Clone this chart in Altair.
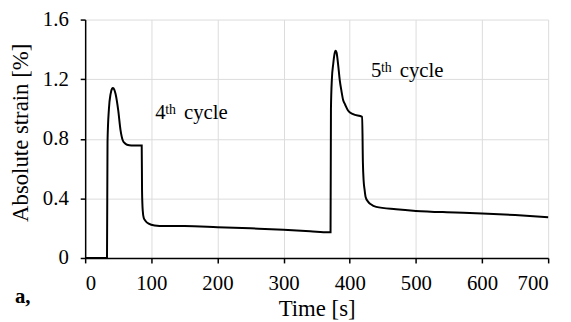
import altair as alt
import pandas as pd

# Time [s] and absolute strain [%]
time_s = [0, 33.0, 33.8, 35.9, 38.4, 40.5, 42.0, 44.0, 46.0, 50.0, 53.4, 56.8,
          60.0, 63.3, 70.0, 85.5, 86.0, 87.0, 88.5, 91.0, 96.0, 105, 120, 150,
          200, 250, 300, 340, 368, 371.0, 371.6, 373.0, 375.0, 377.0, 378.5,
          380.0, 382.4, 385.0, 387.5, 390.0, 393.0, 397.4, 405.0, 418.8, 419.9,
          421.0, 422.4, 424.0, 427.4, 432.0, 440, 470, 500, 560, 600, 650, 700]
strain = [0, 0, 0.78, 1.00, 1.10, 1.135, 1.14, 1.13, 1.10, 0.99, 0.86, 0.79,
          0.77, 0.76, 0.755, 0.755, 0.45, 0.32, 0.27, 0.25, 0.23, 0.218, 0.214,
          0.214, 0.207, 0.199, 0.19, 0.18, 0.172, 0.172, 1.0, 1.2, 1.30, 1.37,
          1.39, 1.38, 1.30, 1.19, 1.12, 1.06, 1.03, 0.99, 0.965, 0.947, 0.64,
          0.52, 0.46, 0.41, 0.38, 0.36, 0.343, 0.327, 0.316, 0.305, 0.298,
          0.288, 0.274]

cycle_num = ["4", "5"]
cycle_t = [106.0, 432.2]
cycle_y = [0.936, 1.212]

x_ticks = [0, 100, 200, 300, 400, 500, 600, 700]
y_ticks = [0, 0.4, 0.8, 1.2, 1.6]

FONT = "Liberation Serif"

df = pd.DataFrame({"t": time_s, "s": strain})
ann = pd.DataFrame({"t": cycle_t, "y": cycle_y, "num": cycle_num})

xs = alt.Scale(domain=[0, 700], nice=False)
ys = alt.Scale(domain=[0, 1.6], nice=False)

axis_common = dict(labelFont=FONT, titleFont=FONT, labelFontSize=21, titleFontSize=23,
                   titleFontWeight="normal", labelColor="black", titleColor="black",
                   domainColor="black", domainWidth=1.5, tickColor="black", tickSize=5,
                   tickWidth=1.5, gridColor="#dcdcdc", gridWidth=1)

line = alt.Chart(df).mark_line(color="black", strokeWidth=2, interpolate="monotone").encode(
    x=alt.X("t:Q", scale=xs, axis=alt.Axis(
        title="Time [s]", values=x_ticks, format="d", titleBaseline="alphabetic",
        titleY=58, labelPadding=10, **axis_common)),
    y=alt.Y("s:Q", scale=ys, axis=alt.Axis(
        title="Absolute strain [%]", values=y_ticks, format="~g",
        titleX=-53, titleY=114, labelPadding=12, **axis_common)),
)

num = alt.Chart(ann).mark_text(font=FONT, fontSize=21, align="left",
                               baseline="alphabetic", color="black").encode(
    x=alt.X("t:Q", scale=xs), y=alt.Y("y:Q", scale=ys), text="num:N")
sup = alt.Chart(ann).mark_text(font=FONT, fontSize=14, align="left",
                               baseline="alphabetic", color="black", dx=10, dy=-5).encode(
    x=alt.X("t:Q", scale=xs), y=alt.Y("y:Q", scale=ys), text=alt.value("th"))
word = alt.Chart(ann).mark_text(font=FONT, fontSize=21, align="left",
                                baseline="alphabetic", color="black", dx=29).encode(
    x=alt.X("t:Q", scale=xs), y=alt.Y("y:Q", scale=ys), text=alt.value("cycle"))

label_a = alt.Chart(pd.DataFrame({"k": ["a,"]})).mark_text(
    font=FONT, fontSize=21, fontWeight="bold", align="left", baseline="alphabetic",
    color="black").encode(x=alt.value(-71), y=alt.value(286), text="k:N")

chart = alt.layer(line, num, sup, word, label_a).properties(
    width=468, height=241,
    autosize=alt.AutoSizeParams(type="none"),
    padding={"left": 78, "top": 10, "right": 15, "bottom": 62},
).configure_view(strokeWidth=0)

chart.save("out.html", embed_options={"renderer": "svg", "actions": False})
